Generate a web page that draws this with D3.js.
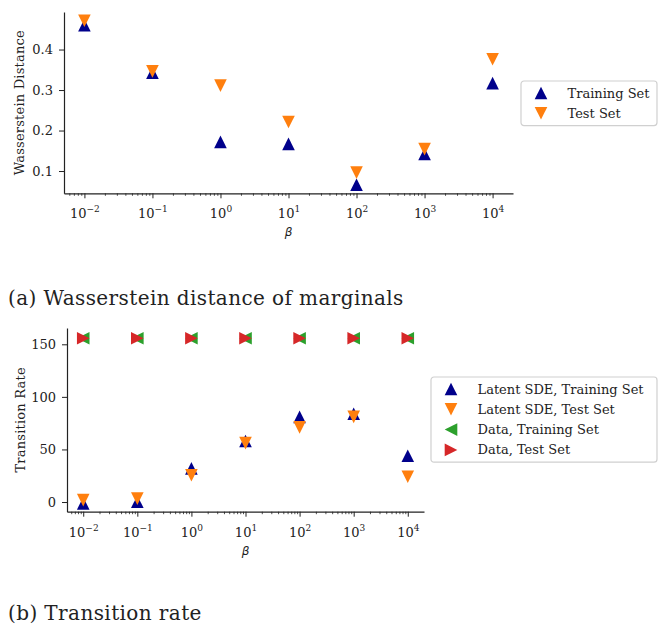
<!DOCTYPE html>
<html>
<head>
<meta charset="utf-8">
<script src="https://cdn.jsdelivr.net/npm/d3@7"></script>
<style>
  body { margin: 0; background: #fff; }
  text { font-family: "DejaVu Serif", serif; fill: #222; }
</style>
</head>
<body>
<div id="fig"></div>
<script>
// values
var betas = [1e-2, 1e-1, 1e0, 1e1, 1e2, 1e3, 1e4];
var wassTrain = [0.460, 0.343, 0.172, 0.167, 0.066, 0.142, 0.317];
var wassTest  = [0.471, 0.346, 0.311, 0.221, 0.096, 0.154, 0.376];
var rateLatentTrain = [-1.3, 0.2, 32, 58, 81, 84, 44];
var rateLatentTest  = [1.8, 3.2, 25.5, 56, 71, 81, 24];
var rateDataTrain   = [155.8, 155.8, 155.8, 155.8, 155.8, 155.8, 155.8];
var rateDataTest    = [155.8, 155.8, 155.8, 155.8, 155.8, 155.8, 155.8];
var wassTicks = [0.1, 0.2, 0.3, 0.4];
var rateTicks = [0, 50, 100, 150];
var xExponents = [-2, -1, 0, 1, 2, 3, 4];

var colors = {train: "#00008b", test: "#ff7f0e", dataTrain: "#2ca02c", dataTest: "#d62728"};
var serif = "'DejaVu Serif', serif";

var width = 667, height = 626;

var svg = d3.select("#fig")
  .append("svg")
    .attr("width", width)
    .attr("height", height);

// matplotlib style triangles (width == height)
function tri(dir, r) {
  var p;
  if (dir == "up") p = [[0, -r], [-r, r], [r, r]];
  else if (dir == "down") p = [[0, r], [-r, -r], [r, -r]];
  else if (dir == "left") p = [[-r, 0], [r, -r], [r, r]];
  else p = [[r, 0], [-r, -r], [-r, r]];
  return "M" + p.map(function(d) { return d.join(","); }).join("L") + "Z";
}

function drawPanel(opt) {
  var g = svg.append("g");

  var x = d3.scaleLog()
    .domain([Math.pow(10, -2.3), Math.pow(10, 4.3)])
    .range([opt.left, opt.right]);
  var y = d3.scaleLinear()
    .domain(opt.yDomain)
    .range([opt.bottom, opt.top]);

  // minor ticks on the log axis
  var minors = [];
  for (var e = -3; e <= 4; e++) {
    for (var k = 2; k <= 9; k++) {
      var v = k * Math.pow(10, e);
      if (v >= x.domain()[0] && v <= x.domain()[1]) minors.push(v);
    }
  }
  g.append("g")
    .attr("transform", "translate(0," + opt.bottom + ")")
    .call(d3.axisBottom(x).tickValues(minors).tickSize(2.5).tickFormat(""))
    .call(function(a) { a.select(".domain").remove(); })
    .selectAll("line").attr("stroke", "#222").attr("stroke-width", 0.8);

  var xAxis = g.append("g")
    .attr("transform", "translate(0," + opt.bottom + ")")
    .call(d3.axisBottom(x).tickValues(betas).tickSize(5).tickSizeOuter(0).tickFormat(""));
  xAxis.select(".domain").attr("stroke", "#222").attr("stroke-width", 1.2);
  xAxis.selectAll("line").attr("stroke", "#222").attr("stroke-width", 1);

  // 10^n labels
  xAxis.selectAll(".tick").each(function(d, i) {
    var t = d3.select(this).append("text")
      .attr("y", 25)
      .attr("text-anchor", "middle")
      .style("font-family", serif)
      .style("font-size", "13px")
      .attr("fill", "#222");
    t.append("tspan").text("10");
    var ex = xExponents[i];
    t.append("tspan")
      .attr("dy", -6)
      .style("font-size", "9px")
      .text(ex < 0 ? "\u2212" + (-ex) : ex);
  });

  var yAxis = g.append("g")
    .attr("transform", "translate(" + opt.left + ",0)")
    .call(d3.axisLeft(y).tickValues(opt.yTicks).tickSize(5).tickSizeOuter(0).tickPadding(6)
      .tickFormat(opt.yFormat));
  yAxis.select(".domain").attr("stroke", "#222").attr("stroke-width", 1.2);
  yAxis.selectAll("line").attr("stroke", "#222").attr("stroke-width", 1);
  yAxis.selectAll("text")
    .style("font-size", "13px")
    .style("font-family", serif)
    .attr("fill", "#222");

  // axis labels
  g.append("text")
    .attr("transform", "translate(" + opt.yLabelX + "," + ((opt.top + opt.bottom) / 2) + ") rotate(-90)")
    .attr("text-anchor", "middle")
    .attr("dy", "0.35em")
    .style("font-family", serif)
    .style("font-size", "13px")
    .style("letter-spacing", "0.2px")
    .text(opt.yLabel);
  g.append("text")
    .attr("x", (opt.left + opt.right) / 2)
    .attr("y", opt.bottom + 43)
    .attr("text-anchor", "middle")
    .style("font-family", "'DejaVu Sans', sans-serif")
    .style("font-style", "italic")
    .style("font-size", "12px")
    .attr("fill", "#444")
    .text("\u03b2");

  // markers
  opt.series.forEach(function(s) {
    g.append("g")
      .selectAll("path")
      .data(s.values)
      .enter()
      .append("path")
        .attr("transform", function(d, i) { return "translate(" + x(betas[i]) + "," + y(d) + ")"; })
        .attr("d", tri(s.dir, 6.3))
        .attr("fill", s.color);
  });

  // legend
  var lg = g.append("g").attr("transform", "translate(" + opt.legend.x + "," + opt.legend.y + ")");
  lg.append("rect")
    .attr("width", opt.legend.w)
    .attr("height", opt.series.length * 20.3 + 4)
    .attr("rx", 3)
    .attr("fill", "#fff")
    .attr("stroke", "#d0d0d0")
    .attr("stroke-width", 1.2);
  opt.series.forEach(function(s, i) {
    var row = lg.append("g").attr("transform", "translate(0," + (12 + i * 20.3) + ")");
    row.append("path")
      .attr("transform", "translate(20,0)")
      .attr("d", tri(s.dir, 6.3))
      .attr("fill", s.color);
    row.append("text")
      .attr("x", 46.5)
      .attr("dy", "0.35em")
      .style("font-family", serif)
      .style("font-size", "13px")
      .text(s.name);
  });

  // caption
  svg.append("text")
    .attr("x", 8)
    .attr("y", opt.captionY)
    .style("font-family", serif)
    .style("font-size", "20px")
    .style("letter-spacing", "0.4px")
    .text(opt.caption);
}

drawPanel({
  left: 64, right: 513, top: 12, bottom: 193.3,
  yDomain: [0.045, 0.4927],
  yTicks: wassTicks,
  yFormat: d3.format(".1f"),
  yLabel: "Wasserstein Distance",
  yLabelX: 19,
  series: [
    {name: "Training Set", values: wassTrain, color: colors.train, dir: "up"},
    {name: "Test Set", values: wassTest, color: colors.test, dir: "down"}
  ],
  legend: {x: 521, y: 81, w: 136},
  caption: "(a) Wasserstein distance of marginals",
  captionY: 305
});

drawPanel({
  left: 67, right: 424, top: 328, bottom: 511.7,
  yDomain: [-9.2, 165.5],
  yTicks: rateTicks,
  yFormat: d3.format("d"),
  yLabel: "Transition Rate",
  yLabelX: 20,
  series: [
    {name: "Latent SDE, Training Set", values: rateLatentTrain, color: colors.train, dir: "up"},
    {name: "Latent SDE, Test Set", values: rateLatentTest, color: colors.test, dir: "down"},
    {name: "Data, Training Set", values: rateDataTrain, color: colors.dataTrain, dir: "left"},
    {name: "Data, Test Set", values: rateDataTest, color: colors.dataTest, dir: "right"}
  ],
  legend: {x: 431, y: 377, w: 226},
  caption: "(b) Transition rate",
  captionY: 620
});
</script>
</body>
</html>
